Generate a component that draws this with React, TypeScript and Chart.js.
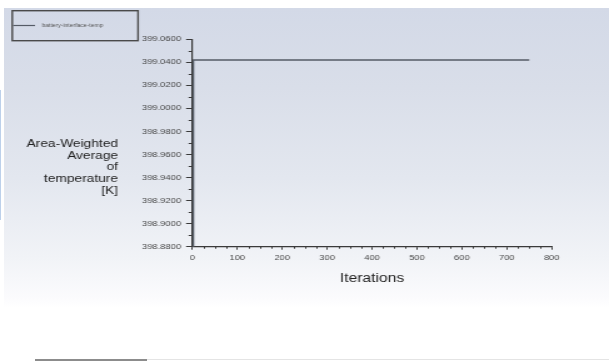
import React, { useEffect, useRef } from "react";
import { Chart, registerables } from "chart.js";

Chart.register(...registerables);

// ---- data ----
const seriesLabel = "battery-interface-temp";
const iterations = [1, 2, 150, 300, 450, 600, 750];
const temperatures = [398.8, 399.042, 399.042, 399.042, 399.042, 399.042, 399.042];
const xMin = 0;
const xMax = 800;
const xStep = 100;
const xMinorStep = 25;
const yMin = 398.88;
const yMax = 399.06;
const yStep = 0.02;
const yTitleLines = ["Area-Weighted", "Average", "of", "temperature", "[K]"];
const xTitle = "Iterations";

// ---- layout ----
const PAGE_W = 609;
const PAGE_H = 363;
const CANVAS_W = 487;
const STRETCH = PAGE_W / CANVAS_W;
const FONT = '"Liberation Sans", Arial, Helvetica, sans-serif';
const AXIS_COLOR = "#3a3a3a";
const LINE_COLOR = "#555b66";

const minorTicks = {
  id: "minorTicks",
  afterDraw(chart: any) {
    const { ctx, chartArea } = chart;
    const x = chart.scales.x;
    const y = chart.scales.y;
    ctx.save();
    ctx.strokeStyle = AXIS_COLOR;
    ctx.lineWidth = 1;
    ctx.beginPath();
    for (let v = yMin + yStep / 2; v < yMax; v += yStep) {
      const py = Math.round(y.getPixelForValue(v)) + 0.5;
      ctx.moveTo(chartArea.left - 3, py);
      ctx.lineTo(chartArea.left, py);
    }
    for (let v = xMin + xMinorStep; v < xMax; v += xMinorStep) {
      if (v % xStep === 0) continue;
      const px = Math.round(x.getPixelForValue(v)) + 0.5;
      ctx.moveTo(px, chartArea.bottom);
      ctx.lineTo(px, chartArea.bottom + 2);
    }
    ctx.stroke();
    ctx.restore();
  },
};

const yTitlePlugin = {
  id: "yTitlePlugin",
  afterDraw(chart: any) {
    const { ctx, chartArea } = chart;
    ctx.save();
    ctx.font = `11px ${FONT}`;
    ctx.fillStyle = "#222";
    ctx.textAlign = "right";
    ctx.textBaseline = "alphabetic";
    const xRight = chartArea.left - 59.4;
    yTitleLines.forEach((t, i) => {
      ctx.fillText(t, xRight, 147.3 + i * 11.55);
    });
    ctx.restore();
  },
};

const boxLegend = {
  id: "boxLegend",
  afterDraw(chart: any) {
    const { ctx } = chart;
    const ds = chart.data.datasets[0];
    ctx.save();
    ctx.strokeStyle = "#4a4a4a";
    ctx.lineWidth = 1.4;
    ctx.strokeRect(9.8, 10.7, 100.6, 30);
    ctx.strokeStyle = ds.borderColor;
    ctx.lineWidth = 1.2;
    ctx.beginPath();
    ctx.moveTo(10.5, 25.5);
    ctx.lineTo(28, 25.5);
    ctx.stroke();
    ctx.font = `5px ${FONT}`;
    ctx.fillStyle = "#555";
    ctx.textAlign = "left";
    ctx.textBaseline = "middle";
    ctx.fillText(ds.label, 33.5, 25.8);
    ctx.restore();
  },
};

function App() {
  const canvasRef = useRef<HTMLCanvasElement | null>(null);

  useEffect(() => {
    if (!canvasRef.current) return;
    const chart = new Chart(canvasRef.current, {
      type: "line",
      data: {
        datasets: [
          {
            label: seriesLabel,
            data: iterations.map((it, i) => ({ x: it, y: temperatures[i] })),
            borderColor: LINE_COLOR,
            borderWidth: 1.6,
            pointRadius: 0,
            tension: 0,
            fill: false,
          },
        ],
      },
      options: {
        animation: false,
        responsive: false,
        devicePixelRatio: 1,
        layout: {
          padding: { left: 0, top: 39.3, right: CANVAS_W - 441.2, bottom: 77.3 },
        },
        plugins: {
          legend: { display: false },
          tooltip: { enabled: false },
        },
        scales: {
          x: {
            type: "linear",
            min: xMin,
            max: xMax,
            afterFit: (s: any) => {
              s.height = 39;
            },
            ticks: {
              stepSize: xStep,
              color: "#484848",
              font: { size: 7.5, family: FONT },
              padding: 4,
              maxRotation: 0,
              callback: (v: any) => String(v),
            },
            grid: {
              drawOnChartArea: false,
              drawTicks: true,
              tickLength: 3,
              color: AXIS_COLOR,
            },
            border: { display: true, color: AXIS_COLOR, width: 1.2 },
            title: {
              display: true,
              text: xTitle,
              color: "#222",
              font: { size: 12.5, family: FONT },
              padding: 0,
            },
          },
          y: {
            type: "linear",
            min: yMin,
            max: yMax,
            afterFit: (s: any) => {
              s.width = 153.8;
            },
            ticks: {
              stepSize: yStep,
              color: "#484848",
              font: { size: 7.5, family: FONT },
              padding: 4,
              callback: (v: any) => Number(v).toFixed(4),
            },
            grid: {
              drawOnChartArea: false,
              drawTicks: true,
              tickLength: 5,
              color: AXIS_COLOR,
            },
            border: { display: true, color: AXIS_COLOR, width: 1.2 },
          },
        },
      },
      plugins: [minorTicks, yTitlePlugin, boxLegend],
    });
    return () => chart.destroy();
  }, []);

  return (
    <div
      style={{
        position: "fixed",
        left: 0,
        top: 0,
        width: PAGE_W,
        height: PAGE_H,
        background: "#ffffff",
        overflow: "hidden",
      }}
    >
      <div
        style={{
          position: "absolute",
          left: 4,
          top: 8,
          width: PAGE_W - 4,
          height: 300,
          background:
            "linear-gradient(to bottom, #d3d9e7 0px, #d9dee9 80px, #e3e7ef 170px, #f1f3f7 250px, #fbfbfd 290px, #ffffff 300px)",
        }}
      />
      <div
        style={{
          position: "absolute",
          left: 0,
          top: 90,
          width: 1,
          height: 130,
          background: "#bcd0ea",
        }}
      />
      <div
        style={{
          position: "absolute",
          left: 35,
          top: 359,
          width: 112,
          height: 2,
          background: "#8c8c8c",
        }}
      />
      <div
        style={{
          position: "absolute",
          left: 147,
          top: 359,
          width: PAGE_W - 147,
          height: 1,
          background: "#e4e4e4",
        }}
      />
      <div
        style={{
          position: "absolute",
          left: 0,
          top: 0,
          width: CANVAS_W,
          height: PAGE_H,
          transform: `scaleX(${STRETCH})`,
          transformOrigin: "0 0",
        }}
      >
        <canvas ref={canvasRef} width={CANVAS_W} height={PAGE_H} />
      </div>
    </div>
  );
}

export default App;
